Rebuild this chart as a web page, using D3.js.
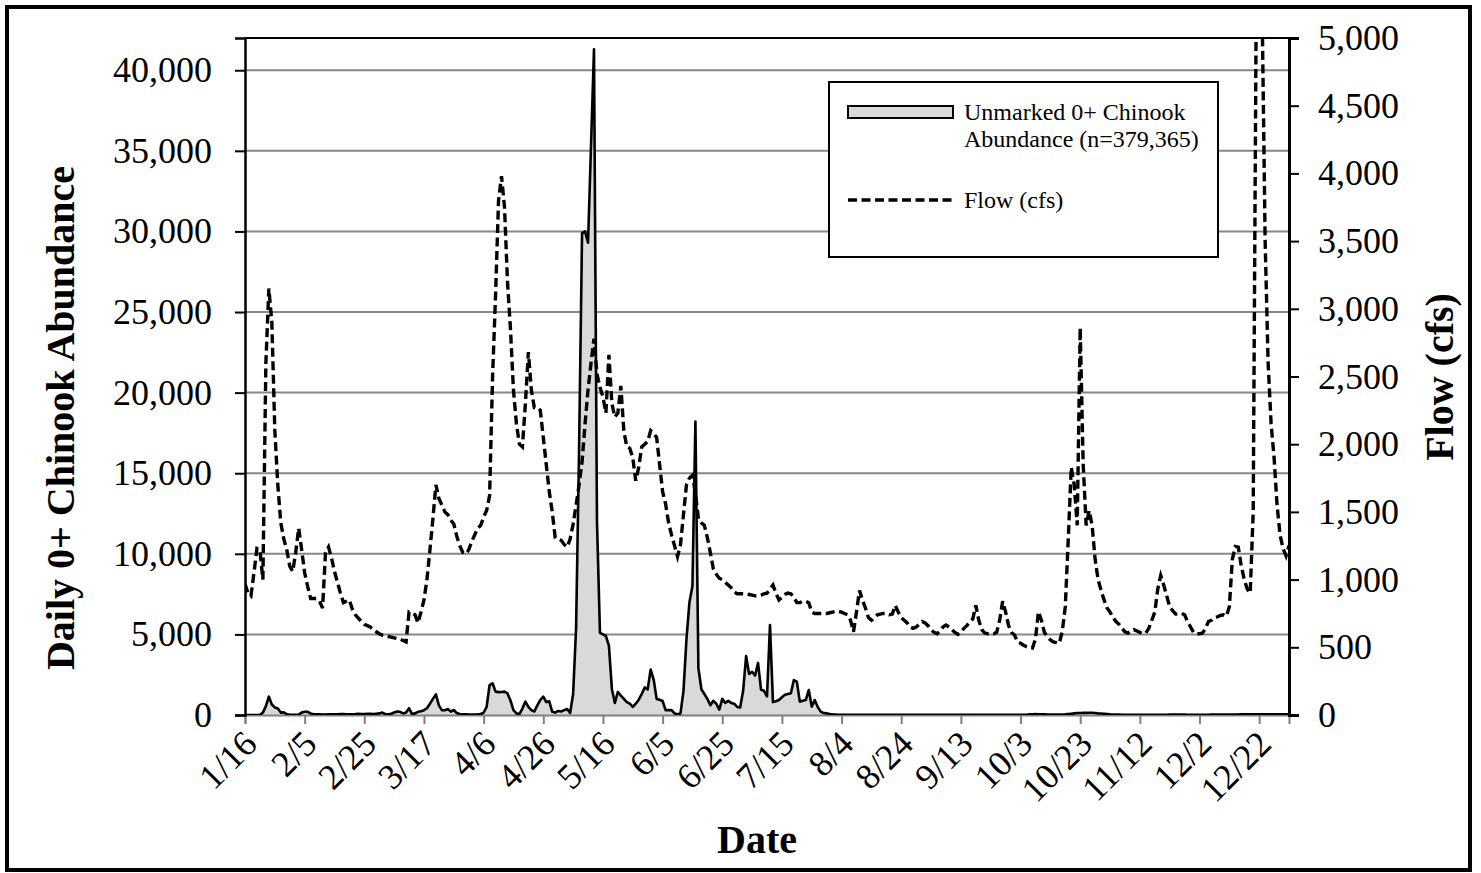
<!DOCTYPE html>
<html><head><meta charset="utf-8">
<script src="https://cdn.jsdelivr.net/npm/d3@7"></script>
<style>body{margin:0;background:#fff} svg{display:block}</style>
</head><body>
<svg id="c" width="1481" height="873"></svg>
<script>
// ---- data ----
const tickLabels = ["1/16","2/5","2/25","3/17","4/6","4/26","5/16","6/5","6/25","7/15","8/4","8/24","9/13","10/3","10/23","11/12","12/2","12/22"];
const tickDays = [0,20,40,60,80,100,120,140,160,180,200,220,240,260,280,300,320,340];
const leftTicks = [0,5000,10000,15000,20000,25000,30000,35000,40000];
const rightTicks = [0,500,1000,1500,2000,2500,3000,3500,4000,4500,5000];
const legendLabels = ["Unmarked 0+ Chinook", "Abundance (n=379,365)", "Flow (cfs)"];

// daily unmarked 0+ Chinook abundance, day 0 = 1/16
const abundance = [
0,0,0,0,0,0,150,550,1140,650,
470,400,150,160,50,20,20,20,20,150,
200,200,100,50,40,40,30,30,40,50,
50,40,60,60,40,40,50,60,80,60,
60,70,80,60,80,100,150,60,40,80,
150,220,200,100,150,420,60,100,200,230,
300,420,700,1000,1280,600,300,290,370,210,
310,120,60,50,40,30,30,30,40,60,
140,500,1860,1970,1450,1420,1430,1450,1340,900,
300,100,60,400,830,500,300,220,600,930,
1140,800,850,200,150,250,220,300,370,120,
1300,5400,16500,29900,30000,29300,35300,41300,12000,5100,
5000,4900,4300,1600,750,1430,1200,1000,800,700,
500,700,950,1300,1710,1580,2820,2200,1000,950,
870,300,300,300,100,50,100,1500,4700,7000,
8000,18200,2900,1600,1300,1000,600,880,700,330,
1000,750,880,750,700,500,470,1500,3650,2540,
2680,2450,3230,1570,1500,1150,5580,800,850,930,
1100,1250,1300,1350,2170,2070,830,880,930,1550,
520,930,500,210,120,100,60,40,30,20,
20,20,15,15,10,10,10,10,10,10,
10,10,10,10,10,10,10,10,10,10,
10,10,10,10,10,10,10,10,10,10,
10,10,10,10,10,15,15,15,15,15,
15,15,15,15,15,15,15,15,15,15,
15,15,20,20,20,20,20,20,20,20,
20,20,20,40,50,60,50,40,40,30,
30,30,30,30,30,40,60,80,100,120,
120,130,130,140,140,120,100,90,80,60,
40,30,30,30,20,20,20,20,20,20,
20,20,20,20,20,20,20,20,20,20,
30,30,30,30,30,30,20,20,20,20,
20,20,20,20,30,30,30,30,30,30,
30,30,30,30,40,40,40,40,40,40,
50,50,50,50,50,50,50,50,50,50,50
];

// daily flow (cfs), day 0 = 1/16
const flow = [
970,900,880,1050,1230,1220,1000,2600,3150,2900,
2100,1700,1420,1300,1220,1100,1060,1200,1380,1220,
1050,950,860,860,860,840,790,1200,1240,1160,
1060,980,900,830,840,850,780,740,715,690,
670,660,650,630,615,600,590,585,580,575,
570,565,560,550,540,760,750,740,680,760,
850,1000,1220,1450,1700,1600,1550,1500,1480,1440,
1410,1320,1250,1200,1190,1220,1280,1330,1380,1400,
1460,1510,1620,2500,3100,3800,3980,3750,3200,2850,
2400,2150,2000,1980,2300,2680,2400,2270,2270,2250,
2050,1850,1650,1500,1310,1300,1290,1260,1240,1300,
1410,1550,1700,1870,2150,2400,2600,2780,2520,2420,
2350,2230,2660,2300,2200,2230,2430,2100,1980,1970,
1900,1730,1830,1980,2000,2020,2100,2080,2050,1850,
1650,1560,1420,1330,1250,1170,1260,1480,1700,1750,
1770,1640,1450,1420,1400,1310,1200,1080,1040,1010,
1000,980,960,940,910,895,895,895,895,890,
885,880,880,885,895,900,930,960,900,850,
870,890,900,895,870,830,830,840,840,830,
760,750,750,750,750,750,755,760,765,765,
760,750,740,700,615,760,920,850,790,720,
700,720,740,745,750,750,740,745,810,760,
720,700,680,650,640,650,670,690,680,660,
630,610,600,620,650,665,650,630,610,595,
610,640,660,690,710,810,700,630,605,600,
600,600,610,700,840,760,660,610,590,540,
530,515,505,500,495,560,763,700,610,580,
555,540,535,530,620,800,1300,1830,1700,1400,
2860,1850,1400,1510,1400,1150,1000,920,850,790,
760,720,690,670,640,615,605,620,630,620,
610,600,605,640,700,760,930,1030,960,880,
800,770,745,745,750,740,690,650,610,600,
600,605,640,690,700,720,725,735,740,730,
800,1150,1245,1240,1100,1000,930,900,1500,5200,
6200,5200,3500,2600,2150,1900,1550,1330,1230,1175,1250
];

// ---- layout ----
const P = {l:245, r:1289, t:38, b:715};
const FONT = "'Liberation Serif','Times New Roman',serif";
const svg = d3.select("#c");

const x = d3.scaleLinear().domain([0, 350]).range([P.l, P.r]);
const yL = d3.scaleLinear().domain([0, 42000]).range([P.b, P.t]);
const yR = d3.scaleLinear().domain([0, 5000]).range([P.b, P.t]);

svg.append("rect").attr("x",0).attr("y",0).attr("width",1481).attr("height",873).attr("fill","#fff");

svg.append("defs").append("clipPath").attr("id","clip")
  .append("rect").attr("x",P.l).attr("y",P.t).attr("width",P.r-P.l).attr("height",P.b-P.t);

// gridlines
svg.append("g").selectAll("line").data(leftTicks.filter(d=>d>0)).join("line")
  .attr("x1",P.l).attr("x2",P.r).attr("y1",d=>yL(d)).attr("y2",d=>yL(d))
  .attr("stroke","#878787").attr("stroke-width",2);

// abundance area
const area = d3.area().x((d,i)=>x(i)).y0(yL(0)).y1(d=>yL(d));
const aline = d3.line().x((d,i)=>x(i)).y(d=>yL(d));
svg.append("path").datum(abundance).attr("d",area).attr("fill","#d9d9d9").attr("clip-path","url(#clip)");

// x axis
const xAxis = svg.append("g").attr("transform",`translate(0,${P.b})`)
  .call(d3.axisBottom(x).tickValues(tickDays).tickSize(9).tickFormat(""));
xAxis.select(".domain").attr("stroke","#808080").attr("stroke-width",2);
xAxis.selectAll(".tick line").attr("stroke","#808080").attr("stroke-width",2);

svg.append("path").datum(abundance).attr("d",aline).attr("fill","none")
  .attr("stroke","#000").attr("stroke-width",2.6).attr("stroke-linejoin","round").attr("clip-path","url(#clip)");

// flow line
const fline = d3.line().x((d,i)=>x(i)).y(d=>yR(d));
svg.append("path").datum(flow).attr("d",fline).attr("fill","none")
  .attr("stroke","#000").attr("stroke-width",3.4).attr("stroke-dasharray","9,4.5")
  .attr("clip-path","url(#clip)");

// x tick labels
svg.append("g").selectAll("text").data(tickDays).join("text")
  .attr("transform",d=>`translate(${x(d)+14},${P.b+31}) rotate(-45)`)
  .attr("text-anchor","end").attr("font-family",FONT).attr("font-size",36).attr("fill","#000")
  .text((d,i)=>tickLabels[i]);

// left axis
const la = svg.append("g").attr("transform",`translate(${P.l},0)`)
  .call(d3.axisLeft(yL).tickValues(leftTicks).tickSize(10).tickPadding(23).tickFormat(d3.format(",")));
la.select(".domain").attr("stroke","#000").attr("stroke-width",2.5);
la.selectAll(".tick line").attr("stroke","#000").attr("stroke-width",2);
la.selectAll("text").attr("font-family",FONT).attr("font-size",36).attr("fill","#000");

// right axis
const ra = svg.append("g").attr("transform",`translate(${P.r},0)`)
  .call(d3.axisRight(yR).tickValues(rightTicks).tickSize(10).tickPadding(19).tickFormat(d3.format(",")));
ra.select(".domain").attr("stroke","#000").attr("stroke-width",3);
ra.selectAll(".tick line").attr("stroke","#000").attr("stroke-width",2);
ra.selectAll("text").attr("font-family",FONT).attr("font-size",36).attr("fill","#000");

// top plot border
svg.append("line").attr("x1",P.l).attr("x2",P.r).attr("y1",P.t).attr("y2",P.t)
  .attr("stroke","#000").attr("stroke-width",2);

// legend
const lg = svg.append("g");
lg.append("rect").attr("x",829).attr("y",82).attr("width",389).attr("height",175)
  .attr("fill","#fff").attr("stroke","#000").attr("stroke-width",2);
lg.append("rect").attr("x",848).attr("y",106).attr("width",105).attr("height",12)
  .attr("fill","#d9d9d9").attr("stroke","#000").attr("stroke-width",2);
lg.append("line").attr("x1",848).attr("x2",953).attr("y1",200).attr("y2",200)
  .attr("stroke","#000").attr("stroke-width",3.4).attr("stroke-dasharray","9,4.5");
lg.selectAll("text").data(legendLabels).join("text")
  .attr("x",964).attr("y",(d,i)=>[120,147,208][i])
  .attr("font-family",FONT).attr("font-size",24).attr("fill","#000").text(d=>d);

// axis titles
svg.append("text").attr("transform","translate(74,418) rotate(-90)").attr("text-anchor","middle")
  .attr("font-family",FONT).attr("font-size",40).attr("font-weight","bold").text("Daily 0+ Chinook Abundance");
svg.append("text").attr("transform","translate(1453,377) rotate(-90)").attr("text-anchor","middle")
  .attr("font-family",FONT).attr("font-size",40).attr("font-weight","bold").text("Flow (cfs)");
svg.append("text").attr("x",757).attr("y",853).attr("text-anchor","middle")
  .attr("font-family",FONT).attr("font-size",40).attr("font-weight","bold").text("Date");

// outer border
svg.append("rect").attr("x",7).attr("y",7).attr("width",1463).attr("height",863)
  .attr("fill","none").attr("stroke","#000").attr("stroke-width",4);
</script>
</body></html>
